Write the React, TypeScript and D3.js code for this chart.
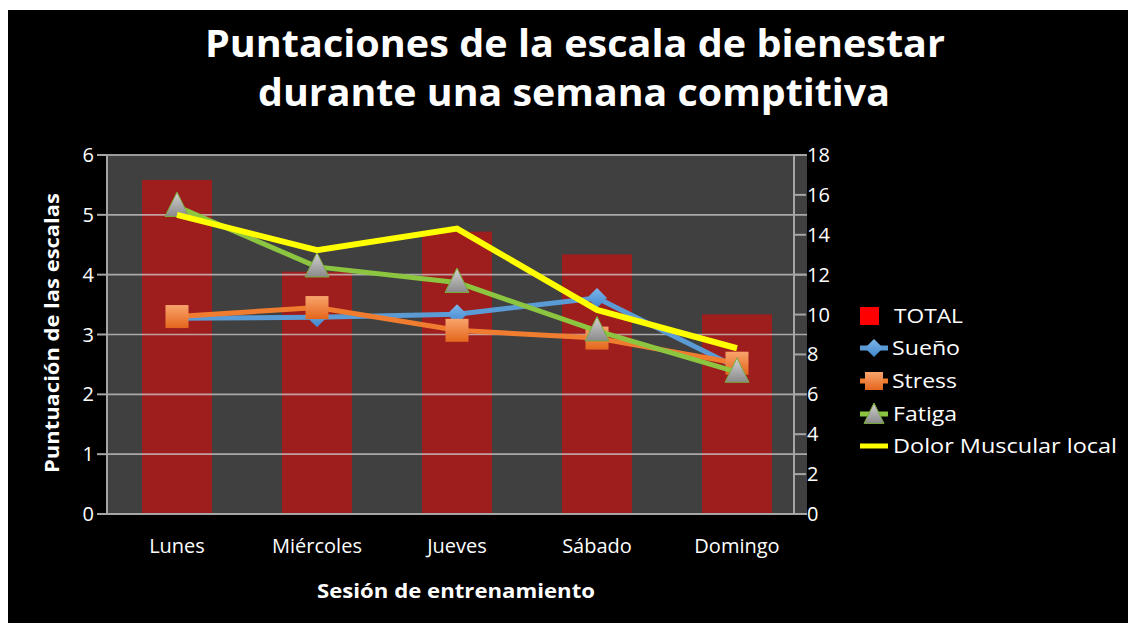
import React from "react";
import * as d3 from "d3";

const categories = ["Lunes", "Miércoles", "Jueves", "Sábado", "Domingo"];
const totalValues = [16.75, 12.15, 14.16, 13.02, 10.01];
const suenoValues = [3.27, 3.29, 3.34, 3.61, 2.45];
const stressValues = [3.3, 3.45, 3.07, 2.94, 2.52];
const fatigaValues = [5.14, 4.13, 3.87, 3.06, 2.37];
const dolorValues = [5.0, 4.41, 4.77, 3.41, 2.77];
const leftTicks = [0, 1, 2, 3, 4, 5, 6];
const rightTicks = [0, 2, 4, 6, 8, 10, 12, 14, 16, 18];
const legendLabels = ["TOTAL", "Sueño", "Stress", "Fatiga", "Dolor Muscular local"];

const FONT = "'Open Sans', sans-serif";
const W = 1128;
const H = 623;
const PL = 107, PR = 807, PT = 155, PB = 514;
const RAX = 794;

export default function App() {
  const x = d3.scaleBand<string>().domain(categories).range([PL, PR]).paddingInner(0.5).paddingOuter(0.25);
  const yL = d3.scaleLinear().domain([0, 6]).range([PB, PT]);
  const yR = d3.scaleLinear().domain([0, 18]).range([PB, PT]);
  const cx = (c: string) => (x(c) as number) + x.bandwidth() / 2;
  const line = d3.line<number>().x((_, i) => cx(categories[i])).y((d) => yL(d));

  const diamond = (px: number, py: number, r = 10) =>
    `M${px},${py - r}L${px + r},${py}L${px},${py + r}L${px - r},${py}Z`;
  const tri = (px: number, py: number, s = 24) =>
    `M${px},${py - s * 0.6}L${px + s / 2},${py + s * 0.42}L${px - s / 2},${py + s * 0.42}Z`;

  const Square = ({ px, py }: { px: number; py: number }) => (
    <rect x={px - 11.5} y={py - 11.5} width={23} height={23} fill="url(#gOrange)" />
  );

  const legendX = 860;
  const legendY = [316, 348, 381, 414, 446];

  return (
    <svg width={W} height={H} style={{ position: "absolute", left: 0, top: 0 }} fontFamily={FONT}>
      <defs>
        <linearGradient id="gOrange" x1="0" y1="0" x2="0" y2="1">
          <stop offset="0" stopColor="#f9a46c" />
          <stop offset="1" stopColor="#e4661c" />
        </linearGradient>
        <linearGradient id="gGray" x1="0" y1="0" x2="0" y2="1">
          <stop offset="0" stopColor="#d2d2d2" />
          <stop offset="1" stopColor="#8a8a8a" />
        </linearGradient>
        <linearGradient id="gBlue" x1="0" y1="0" x2="0" y2="1">
          <stop offset="0" stopColor="#7db6ea" />
          <stop offset="1" stopColor="#3f86cc" />
        </linearGradient>
      </defs>
      <rect x={0} y={0} width={W} height={H} fill="#ffffff" />
      <rect x={8} y={10} width={W - 8} height={H - 10} fill="#000000" />

      {/* Title */}
      <text x={575} y={57} textAnchor="middle" fill="#fff" fontSize={38} fontWeight="bold" textLength={740} lengthAdjust="spacingAndGlyphs">
        Puntaciones de la escala de bienestar
      </text>
      <text x={574} y={106} textAnchor="middle" fill="#fff" fontSize={38} fontWeight="bold" textLength={632} lengthAdjust="spacingAndGlyphs">
        durante una semana comptitiva
      </text>

      {/* Plot area */}
      <rect x={PL} y={PT} width={PR - PL} height={PB - PT} fill="#404040" />

      {/* Bars */}
      {categories.map((c, i) => (
        <rect key={c} x={x(c)} y={yR(totalValues[i])} width={x.bandwidth()} height={PB - yR(totalValues[i])} fill="#9e1e1e" />
      ))}

      {/* Gridlines */}
      {leftTicks.slice(1, -1).map((t) => (
        <line key={t} x1={PL} x2={PR} y1={yL(t)} y2={yL(t)} stroke="#d6d6d6" strokeOpacity={0.7} strokeWidth={1.6} />
      ))}

      {/* Border / axes */}
      <line x1={PL} x2={PR} y1={PT} y2={PT} stroke="#9a9a9a" strokeWidth={2} />
      <line x1={PL} x2={PR} y1={PB} y2={PB} stroke="#a6a6a6" strokeWidth={2} />
      <line x1={PL} x2={PL} y1={PT} y2={PB} stroke="#a6a6a6" strokeWidth={2} />
      <line x1={RAX} x2={RAX} y1={PT} y2={PB} stroke="#a6a6a6" strokeWidth={2} />

      {/* Left axis */}
      {leftTicks.map((t) => (
        <g key={t}>
          <line x1={97} x2={PL} y1={yL(t)} y2={yL(t)} stroke="#a6a6a6" strokeWidth={2} />
          <text x={94} y={yL(t)} dy="0.35em" textAnchor="end" fill="#fff" fontSize={20}>{t}</text>
        </g>
      ))}
      {/* Right axis */}
      {rightTicks.map((t) => (
        <g key={t}>
          <line x1={RAX} x2={806} y1={yR(t)} y2={yR(t)} stroke="#a6a6a6" strokeWidth={2} />
          <text x={807} y={yR(t)} dy="0.35em" textAnchor="start" fill="#fff" fontSize={20}>{t}</text>
        </g>
      ))}

      {/* Category labels */}
      {categories.map((c) => (
        <text key={c} x={cx(c)} y={546} dy="0.35em" textAnchor="middle" fill="#fff" fontSize={20}>{c}</text>
      ))}

      {/* Axis titles */}
      <text x={456} y={591} dy="0.35em" textAnchor="middle" fill="#fff" fontSize={20} fontWeight="bold" textLength={278} lengthAdjust="spacingAndGlyphs">
        Sesión de entrenamiento
      </text>
      <text transform="translate(52,333) rotate(-90)" dy="0.35em" textAnchor="middle" fill="#fff" fontSize={20} fontWeight="bold" textLength={280} lengthAdjust="spacingAndGlyphs">
        Puntuación de las escalas
      </text>

      {/* Sueño */}
      <path d={line(suenoValues) as string} fill="none" stroke="#5b9bd5" strokeWidth={5} strokeLinejoin="round" />
      {suenoValues.map((v, i) => (
        <path key={i} d={diamond(cx(categories[i]), yL(v))} fill="url(#gBlue)" />
      ))}
      {/* Stress */}
      <path d={line(stressValues) as string} fill="none" stroke="#f07c30" strokeWidth={5} strokeLinejoin="round" />
      {stressValues.map((v, i) => (
        <Square key={i} px={cx(categories[i])} py={yL(v)} />
      ))}
      {/* Fatiga */}
      <path d={line(fatigaValues) as string} fill="none" stroke="#8cc540" strokeWidth={5} strokeLinejoin="round" />
      {fatigaValues.map((v, i) => (
        <path key={i} d={tri(cx(categories[i]), yL(v))} fill="url(#gGray)" stroke="#7aaa3a" strokeWidth={1} />
      ))}
      {/* Dolor */}
      <path d={line(dolorValues) as string} fill="none" stroke="#ffff00" strokeWidth={6} strokeLinejoin="miter" />

      {/* Legend */}
      <rect x={legendX} y={legendY[0] - 9} width={19} height={18} fill="#ff0000" />
      <text x={894} y={legendY[0]} dy="0.35em" fill="#fff" fontSize={20} textLength={69} lengthAdjust="spacingAndGlyphs">{legendLabels[0]}</text>

      <line x1={legendX} x2={888} y1={legendY[1]} y2={legendY[1]} stroke="#5b9bd5" strokeWidth={5} />
      <path d={diamond(874, legendY[1], 9)} fill="url(#gBlue)" />
      <text x={892} y={legendY[1]} dy="0.35em" fill="#fff" fontSize={20} textLength={68} lengthAdjust="spacingAndGlyphs">{legendLabels[1]}</text>

      <line x1={legendX} x2={888} y1={legendY[2]} y2={legendY[2]} stroke="#f07c30" strokeWidth={5} />
      <rect x={865} y={legendY[2] - 9} width={18} height={18} fill="url(#gOrange)" />
      <text x={892} y={legendY[2]} dy="0.35em" fill="#fff" fontSize={20} textLength={65} lengthAdjust="spacingAndGlyphs">{legendLabels[2]}</text>

      <line x1={legendX} x2={888} y1={legendY[3]} y2={legendY[3]} stroke="#8cc540" strokeWidth={5} />
      <path d={tri(874, legendY[3] + 1, 20)} fill="url(#gGray)" stroke="#7aaa3a" strokeWidth={1} />
      <text x={893} y={legendY[3]} dy="0.35em" fill="#fff" fontSize={20} textLength={64} lengthAdjust="spacingAndGlyphs">{legendLabels[3]}</text>

      <line x1={legendX} x2={888} y1={legendY[4]} y2={legendY[4]} stroke="#ffff00" strokeWidth={5} />
      <text x={893} y={legendY[4]} dy="0.35em" fill="#fff" fontSize={20} textLength={224} lengthAdjust="spacingAndGlyphs">{legendLabels[4]}</text>
    </svg>
  );
}
